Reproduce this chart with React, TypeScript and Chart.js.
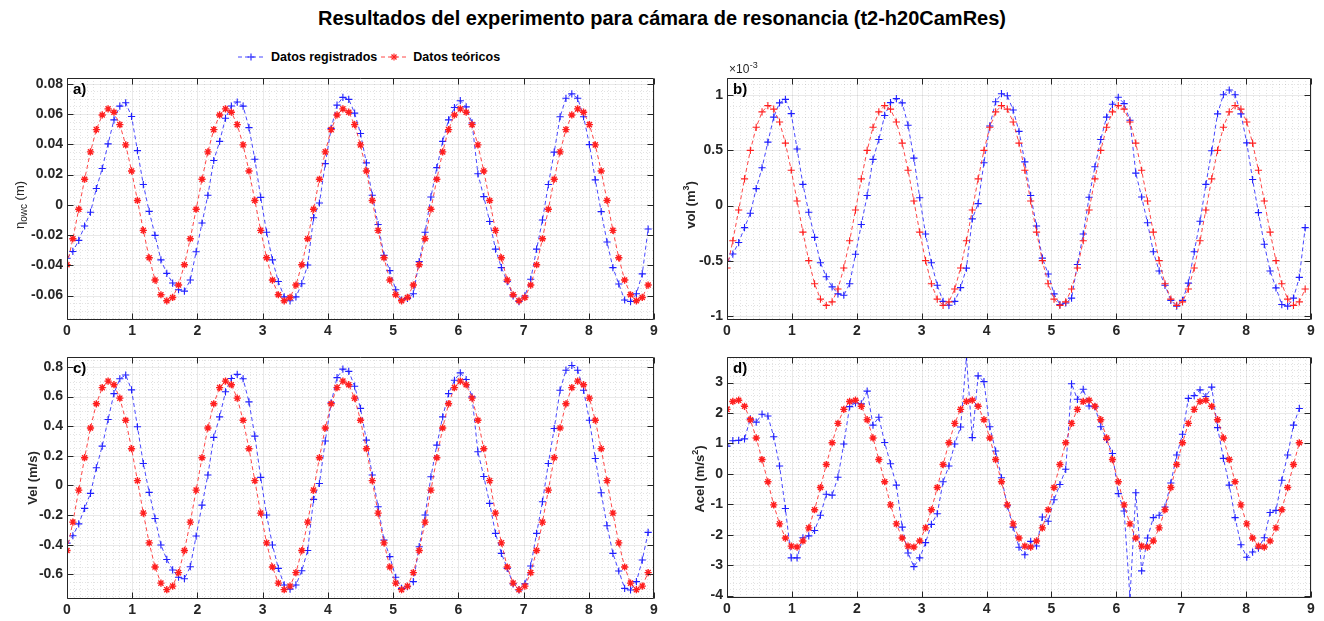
import React, { useEffect, useRef } from 'react';
import { Chart, registerables } from 'chart.js';

Chart.register(...registerables);

const FONT = "'Liberation Sans', Arial, Helvetica, sans-serif";

// ---------------- DATA ----------------
const TIME = [0, 0.09, 0.18, 0.27, 0.36, 0.45, 0.54, 0.63, 0.72, 0.81, 0.9, 0.99, 1.08, 1.17, 1.26, 1.35, 1.44, 1.53, 1.62, 1.71,
  1.8, 1.89, 1.98, 2.07, 2.16, 2.25, 2.34, 2.43, 2.52, 2.61, 2.7, 2.79, 2.88, 2.97, 3.06, 3.15, 3.24, 3.33, 3.42, 3.51,
  3.6, 3.69, 3.78, 3.87, 3.96, 4.05, 4.14, 4.23, 4.32, 4.41, 4.5, 4.59, 4.68, 4.77, 4.86, 4.95, 5.04, 5.13, 5.22, 5.31,
  5.4, 5.49, 5.58, 5.67, 5.76, 5.85, 5.94, 6.03, 6.12, 6.21, 6.3, 6.39, 6.48, 6.57, 6.66, 6.75, 6.84, 6.93, 7.02, 7.11,
  7.2, 7.29, 7.38, 7.47, 7.56, 7.65, 7.74, 7.83, 7.92, 8.01, 8.1, 8.19, 8.28, 8.37, 8.46, 8.55, 8.64, 8.73, 8.82, 8.91];

const ETA_REG = [-0.0353, -0.0308, -0.0235, -0.0140, -0.0049, 0.0108, 0.0240, 0.0403, 0.0561, 0.0652,
  0.0674, 0.0584, 0.0358, 0.0134, -0.0043, -0.0202, -0.0364, -0.0453, -0.0517, -0.0561,
  -0.0570, -0.0497, -0.0310, -0.0120, 0.0063, 0.0293, 0.0419, 0.0572, 0.0653, 0.0679,
  0.0652, 0.0510, 0.0301, 0.0049, -0.0181, -0.0364, -0.0507, -0.0608, -0.0634, -0.0608,
  -0.0521, -0.0398, -0.0085, 0.0012, 0.0272, 0.0505, 0.0659, 0.0710, 0.0697, 0.0606,
  0.0471, 0.0277, 0.0063, -0.0130, -0.0334, -0.0435, -0.0561, -0.0629, -0.0619, -0.0588,
  -0.0375, -0.0181, 0.0052, 0.0246, 0.0419, 0.0561, 0.0643, 0.0688, 0.0647, 0.0541,
  0.0205, 0.0054, -0.0110, -0.0293, -0.0415, -0.0507, -0.0602, -0.0639, -0.0602, -0.0492,
  -0.0293, -0.0100, 0.0134, 0.0348, 0.0582, 0.0704, 0.0733, 0.0704, 0.0582, 0.0398,
  0.0165, -0.0045, -0.0246, -0.0415, -0.0523, -0.0629, -0.0639, -0.0588, -0.0456, -0.0160];

const ETA_TEO = [-0.0396, -0.0224, -0.0029, 0.0169, 0.0350, 0.0497, 0.0594, 0.0634, 0.0612, 0.0530,
  0.0396, 0.0224, 0.0029, -0.0169, -0.0350, -0.0497, -0.0594, -0.0634, -0.0612, -0.0530,
  -0.0396, -0.0224, -0.0029, 0.0169, 0.0350, 0.0497, 0.0594, 0.0634, 0.0612, 0.0530,
  0.0396, 0.0224, 0.0029, -0.0169, -0.0350, -0.0497, -0.0594, -0.0634, -0.0612, -0.0530,
  -0.0396, -0.0224, -0.0029, 0.0169, 0.0350, 0.0497, 0.0594, 0.0634, 0.0612, 0.0530,
  0.0396, 0.0224, 0.0029, -0.0169, -0.0350, -0.0497, -0.0594, -0.0634, -0.0612, -0.0530,
  -0.0396, -0.0224, -0.0029, 0.0169, 0.0350, 0.0497, 0.0594, 0.0634, 0.0612, 0.0530,
  0.0396, 0.0224, 0.0029, -0.0169, -0.0350, -0.0497, -0.0594, -0.0634, -0.0612, -0.0530,
  -0.0396, -0.0224, -0.0029, 0.0169, 0.0350, 0.0497, 0.0594, 0.0634, 0.0612, 0.0530,
  0.0396, 0.0224, 0.0029, -0.0169, -0.0350, -0.0497, -0.0594, -0.0634, -0.0612, -0.0530];

// volume in units of 1e-3 m^3
const VOL_REG = [-0.503, -0.439, -0.335, -0.200, -0.070, 0.153, 0.342, 0.574, 0.800, 0.929,
  0.961, 0.832, 0.511, 0.191, -0.061, -0.288, -0.518, -0.645, -0.736, -0.800,
  -0.812, -0.708, -0.441, -0.172, 0.090, 0.418, 0.597, 0.815, 0.931, 0.967,
  0.929, 0.727, 0.429, 0.070, -0.258, -0.518, -0.722, -0.867, -0.903, -0.867,
  -0.743, -0.567, -0.121, 0.017, 0.387, 0.720, 0.939, 1.012, 0.993, 0.864,
  0.671, 0.395, 0.090, -0.186, -0.476, -0.620, -0.800, -0.896, -0.882, -0.838,
  -0.534, -0.258, 0.075, 0.351, 0.597, 0.800, 0.916, 0.980, 0.922, 0.771,
  0.293, 0.077, -0.156, -0.418, -0.592, -0.722, -0.858, -0.910, -0.858, -0.702,
  -0.418, -0.142, 0.191, 0.495, 0.829, 1.003, 1.045, 1.003, 0.829, 0.567,
  0.235, -0.064, -0.351, -0.592, -0.745, -0.896, -0.910, -0.838, -0.650, -0.200];

const VOL_TEO = [-0.565, -0.319, -0.041, 0.241, 0.499, 0.708, 0.847, 0.904, 0.872, 0.756,
  0.565, 0.319, 0.041, -0.241, -0.499, -0.708, -0.847, -0.904, -0.872, -0.756,
  -0.565, -0.319, -0.041, 0.241, 0.499, 0.708, 0.847, 0.904, 0.872, 0.756,
  0.565, 0.319, 0.041, -0.241, -0.499, -0.708, -0.847, -0.904, -0.872, -0.756,
  -0.565, -0.319, -0.041, 0.241, 0.499, 0.708, 0.847, 0.904, 0.872, 0.756,
  0.565, 0.319, 0.041, -0.241, -0.499, -0.708, -0.847, -0.904, -0.872, -0.756,
  -0.565, -0.319, -0.041, 0.241, 0.499, 0.708, 0.847, 0.904, 0.872, 0.756,
  0.565, 0.319, 0.041, -0.241, -0.499, -0.708, -0.847, -0.904, -0.872, -0.756,
  -0.565, -0.319, -0.041, 0.241, 0.499, 0.708, 0.847, 0.904, 0.872, 0.756,
  0.565, 0.319, 0.041, -0.241, -0.499, -0.708, -0.847, -0.904, -0.872, -0.756];

const VEL_REG = [-0.39, -0.34, -0.26, -0.155, -0.054, 0.119, 0.265, 0.445, 0.62, 0.72,
  0.745, 0.645, 0.396, 0.148, -0.047, -0.223, -0.402, -0.50, -0.571, -0.62,
  -0.63, -0.549, -0.342, -0.133, 0.07, 0.324, 0.463, 0.632, 0.722, 0.75,
  0.72, 0.564, 0.333, 0.054, -0.20, -0.402, -0.56, -0.672, -0.70, -0.672,
  -0.576, -0.44, -0.094, 0.013, 0.30, 0.558, 0.728, 0.785, 0.77, 0.67,
  0.52, 0.306, 0.07, -0.144, -0.369, -0.481, -0.62, -0.695, -0.684, -0.65,
  -0.414, -0.2, 0.058, 0.272, 0.463, 0.62, 0.71, 0.76, 0.715, 0.598,
  0.227, 0.06, -0.121, -0.324, -0.459, -0.56, -0.665, -0.706, -0.665, -0.544,
  -0.324, -0.11, 0.148, 0.384, 0.643, 0.778, 0.81, 0.778, 0.643, 0.44,
  0.182, -0.05, -0.272, -0.459, -0.578, -0.695, -0.706, -0.65, -0.504, -0.317];

const VEL_TEO = [-0.44, -0.248, -0.032, 0.187, 0.388, 0.551, 0.66, 0.704, 0.68, 0.589,
  0.44, 0.248, 0.032, -0.187, -0.388, -0.551, -0.66, -0.704, -0.68, -0.589,
  -0.44, -0.248, -0.032, 0.187, 0.388, 0.551, 0.66, 0.704, 0.68, 0.589,
  0.44, 0.248, 0.032, -0.187, -0.388, -0.551, -0.66, -0.704, -0.68, -0.589,
  -0.44, -0.248, -0.032, 0.187, 0.388, 0.551, 0.66, 0.704, 0.68, 0.589,
  0.44, 0.248, 0.032, -0.187, -0.388, -0.551, -0.66, -0.704, -0.68, -0.589,
  -0.44, -0.248, -0.032, 0.187, 0.388, 0.551, 0.66, 0.704, 0.68, 0.589,
  0.44, 0.248, 0.032, -0.187, -0.388, -0.551, -0.66, -0.704, -0.68, -0.589,
  -0.44, -0.248, -0.032, 0.187, 0.388, 0.551, 0.66, 0.704, 0.68, 0.589,
  0.44, 0.248, 0.032, -0.187, -0.388, -0.551, -0.66, -0.704, -0.68, -0.589];

const ACEL_REG = [0.91, 1.09, 1.10, 1.15, 1.81, 1.70, 1.96, 1.90, 1.22, 0.26,
  -1.14, -2.76, -2.76, -2.10, -2.04, -1.86, -1.36, -0.67, -0.70, -0.11,
  0.98, 2.21, 2.33, 2.30, 2.72, 1.60, 1.86, 1.03, 0.33, -0.37,
  -1.75, -2.60, -3.05, -2.76, -2.26, -1.66, -1.31, -0.26, 0.26, 0.98,
  1.54, 3.84, 1.19, 3.22, 3.03, 1.55, 0.75, -0.13, -1.05, -1.75,
  -2.41, -2.66, -2.22, -2.37, -1.42, -1.56, -0.85, -0.35, 0.15, 2.96,
  2.45, 2.78, 2.23, 2.20, 1.55, 1.13, 0.67, -0.65, -1.22, -4.07,
  -0.62, -3.19, -2.11, -1.44, -1.36, -1.09, -0.30, 0.62, 1.30, 2.48,
  2.57, 2.76, 2.54, 2.85, 1.52, 0.51, -0.37, -1.44, -2.33, -2.74,
  -2.57, -2.44, -2.10, -1.27, -1.20, -0.21, 0.62, 1.60, 2.15];

const ACEL_TEO = [2.12, 2.38, 2.42, 2.22, 1.78, 1.18, 0.47, -0.26, -1.02, -1.645,
  -2.11, -2.375, -2.405, -2.205, -1.775, -1.18, -0.45, 0.305, 1.02, 1.66,
  2.12, 2.38, 2.42, 2.22, 1.78, 1.18, 0.47, -0.26, -1.02, -1.645,
  -2.11, -2.375, -2.405, -2.205, -1.775, -1.18, -0.45, 0.305, 1.02, 1.66,
  2.12, 2.38, 2.42, 2.22, 1.78, 1.18, 0.47, -0.26, -1.02, -1.645,
  -2.11, -2.375, -2.405, -2.205, -1.775, -1.18, -0.45, 0.305, 1.02, 1.66,
  2.12, 2.38, 2.42, 2.22, 1.78, 1.18, 0.47, -0.26, -1.02, -1.645,
  -2.11, -2.375, -2.405, -2.205, -1.775, -1.18, -0.45, 0.305, 1.02, 1.66,
  2.12, 2.38, 2.42, 2.22, 1.78, 1.18, 0.47, -0.26, -1.02, -1.645,
  -2.11, -2.375, -2.405, -2.205, -1.775, -1.18, -0.45, 0.305, 1.02];

const X_TICKS = [0, 1, 2, 3, 4, 5, 6, 7, 8, 9];
const ETA_TICKS = [-0.06, -0.04, -0.02, 0, 0.02, 0.04, 0.06, 0.08];
const VOL_TICKS = [-1, -0.5, 0, 0.5, 1];
const VEL_TICKS = [-0.6, -0.4, -0.2, 0, 0.2, 0.4, 0.6, 0.8];
const ACEL_TICKS = [-4, -3, -2, -1, 0, 1, 2, 3];

const TITLE = 'Resultados del experimento para cámara de resonancia (t2-h20CamRes)';
const LEGEND_REG = 'Datos registrados';
const LEGEND_TEO = 'Datos teóricos';

// ---------------- STYLE ----------------
const BLUE_LINE = 'rgba(40,40,255,0.85)';
const BLUE_MARK = '#1f1fff';
const RED_LINE = 'rgba(255,40,40,0.85)';
const RED_MARK = '#ff1f1f';
const AXIS = '#262626';

type TitlePart = { text: string; size: number; weight: string; dy: number };

type PanelDef = {
  id: string;
  left: number; top: number; right: number; bottom: number;
  yw: number;
  yMin: number; yMax: number;
  yTicks: number[];
  yMinor: number;
  reg: number[]; teo: number[];
  teoStyle: string;
  label: string;
  titleX: number; titleY: number;
  title: TitlePart[];
  exponent?: boolean;
};

const PANELS: PanelDef[] = [
  {
    id: 'a', left: 67, top: 78, right: 654, bottom: 320, yw: 66,
    yMin: -0.0761, yMax: 0.0838, yTicks: ETA_TICKS, yMinor: 0.005,
    reg: ETA_REG, teo: ETA_TEO, teoStyle: 'star', label: 'a)',
    titleX: 19, titleY: 205,
    title: [
      { text: 'η', size: 13, weight: 'normal', dy: 0 },
      { text: 'owc', size: 10, weight: 'normal', dy: 3 },
      { text: ' (m)', size: 13, weight: 'normal', dy: 0 },
    ],
  },
  {
    id: 'b', left: 727, top: 78, right: 1311, bottom: 320, yw: 70,
    yMin: -1.036, yMax: 1.154, yTicks: VOL_TICKS, yMinor: 0.1,
    reg: VOL_REG, teo: VOL_TEO, teoStyle: 'cross', label: 'b)',
    titleX: 690, titleY: 205,
    title: [
      { text: 'vol (m', size: 13, weight: 'bold', dy: 0 },
      { text: '3', size: 9, weight: 'bold', dy: -6 },
      { text: ')', size: 13, weight: 'bold', dy: 0 },
    ],
    exponent: true,
  },
  {
    id: 'c', left: 67, top: 357, right: 654, bottom: 599, yw: 66,
    yMin: -0.767, yMax: 0.867, yTicks: VEL_TICKS, yMinor: 0.05,
    reg: VEL_REG, teo: VEL_TEO, teoStyle: 'star', label: 'c)',
    titleX: 32, titleY: 478,
    title: [{ text: 'Vel (m/s)', size: 13, weight: 'bold', dy: 0 }],
  },
  {
    id: 'd', left: 727, top: 357, right: 1311, bottom: 598, yw: 70,
    yMin: -4.08, yMax: 3.84, yTicks: ACEL_TICKS, yMinor: 0.2,
    reg: ACEL_REG, teo: ACEL_TEO, teoStyle: 'star', label: 'd)',
    titleX: 699, titleY: 479,
    title: [
      { text: 'Acel (m/s', size: 13, weight: 'bold', dy: 0 },
      { text: '2', size: 9, weight: 'bold', dy: -6 },
      { text: ')', size: 13, weight: 'bold', dy: 0 },
    ],
  },
];

const PAD_TOP = 30;
const PAD_RIGHT = 12;
const X_H = 22;
const X_MINOR = 0.1;
const TICK_LEN = 6;

function fmt(v: number) {
  const r = Math.round(v * 1000) / 1000;
  return String(r);
}

function makeDeco(p: PanelDef, canvasLeft: number, canvasTop: number) {
  return {
    id: 'deco' + p.id,
    beforeDatasetsDraw(chart: any) {
      const { ctx, chartArea: a, scales } = chart;
      const xs = scales.x;
      const ys = scales.y;
      ctx.save();
      ctx.lineWidth = 1;
      // minor grid (dotted)
      ctx.strokeStyle = 'rgba(38,38,38,0.13)';
      ctx.setLineDash([1, 2]);
      ctx.beginPath();
      const nx = Math.round(9 / X_MINOR);
      for (let k = 1; k < nx; k++) {
        if (k % Math.round(1 / X_MINOR) === 0) continue;
        const px = Math.round(xs.getPixelForValue(k * X_MINOR)) + 0.5;
        ctx.moveTo(px, a.top);
        ctx.lineTo(px, a.bottom);
      }
      const k0 = Math.ceil(p.yMin / p.yMinor);
      const k1 = Math.floor(p.yMax / p.yMinor);
      for (let k = k0; k <= k1; k++) {
        const v = k * p.yMinor;
        if (p.yTicks.some((t) => Math.abs(t - v) < p.yMinor * 0.01)) continue;
        const py = Math.round(ys.getPixelForValue(v)) + 0.5;
        ctx.moveTo(a.left, py);
        ctx.lineTo(a.right, py);
      }
      ctx.stroke();
      // major grid
      ctx.setLineDash([]);
      ctx.strokeStyle = 'rgba(38,38,38,0.10)';
      ctx.beginPath();
      for (const t of X_TICKS) {
        const px = Math.round(xs.getPixelForValue(t)) + 0.5;
        ctx.moveTo(px, a.top);
        ctx.lineTo(px, a.bottom);
      }
      for (const t of p.yTicks) {
        const py = Math.round(ys.getPixelForValue(t)) + 0.5;
        ctx.moveTo(a.left, py);
        ctx.lineTo(a.right, py);
      }
      ctx.stroke();
      ctx.restore();
    },
    afterDatasetsDraw(chart: any) {
      const { ctx, chartArea: a, scales } = chart;
      const xs = scales.x;
      const ys = scales.y;
      ctx.save();
      ctx.strokeStyle = AXIS;
      ctx.lineWidth = 1;
      ctx.setLineDash([]);
      const L = Math.round(a.left) + 0.5;
      const R = Math.round(a.right) - 0.5;
      const T = Math.round(a.top) + 0.5;
      const B = Math.round(a.bottom) - 0.5;
      ctx.beginPath();
      ctx.rect(L, T, R - L, B - T);
      for (const t of X_TICKS) {
        const px = Math.round(xs.getPixelForValue(t)) + 0.5;
        ctx.moveTo(px, B);
        ctx.lineTo(px, B - TICK_LEN);
        ctx.moveTo(px, T);
        ctx.lineTo(px, T + TICK_LEN);
      }
      for (const t of p.yTicks) {
        const py = Math.round(ys.getPixelForValue(t)) + 0.5;
        ctx.moveTo(L, py);
        ctx.lineTo(L + TICK_LEN, py);
        ctx.moveTo(R, py);
        ctx.lineTo(R - TICK_LEN, py);
      }
      ctx.stroke();

      // panel letter
      ctx.fillStyle = '#000';
      ctx.font = `bold 15px ${FONT}`;
      ctx.textBaseline = 'middle';
      ctx.textAlign = 'left';
      ctx.fillText(p.label, a.left + 6, a.top + 12);

      // exponent label
      if (p.exponent) {
        ctx.fillStyle = AXIS;
        ctx.textBaseline = 'alphabetic';
        ctx.font = `normal 12px ${FONT}`;
        const x0 = a.left + 2;
        const base = a.top - 5;
        ctx.fillText('×10', x0, base);
        const w = ctx.measureText('×10').width;
        ctx.font = `normal 9px ${FONT}`;
        ctx.fillText('-3', x0 + w + 0.5, base - 5);
      }

      // y title (rotated)
      ctx.fillStyle = AXIS;
      ctx.textBaseline = 'alphabetic';
      ctx.textAlign = 'left';
      const cx = p.titleX - canvasLeft;
      const cy = p.titleY - canvasTop;
      let total = 0;
      const widths: number[] = [];
      for (const part of p.title) {
        ctx.font = `${part.weight} ${part.size}px ${FONT}`;
        const w = ctx.measureText(part.text).width;
        widths.push(w);
        total += w;
      }
      ctx.translate(cx, cy);
      ctx.rotate(-Math.PI / 2);
      let x = -total / 2;
      p.title.forEach((part, i) => {
        ctx.font = `${part.weight} ${part.size}px ${FONT}`;
        ctx.fillText(part.text, x, 4.6 + part.dy);
        x += widths[i];
      });
      ctx.restore();
    },
  };
}

function PanelChart({ p }: { p: PanelDef }) {
  const ref = useRef<HTMLCanvasElement | null>(null);
  const canvasLeft = p.left - p.yw;
  const canvasTop = p.top - PAD_TOP;
  const cw = p.yw + (p.right - p.left) + PAD_RIGHT;
  const ch = PAD_TOP + (p.bottom - p.top) + X_H;

  useEffect(() => {
    if (!ref.current) return;
    const regData = p.reg.map((v, i) => ({ x: TIME[i], y: v }));
    const teoData = p.teo.map((v, i) => ({ x: TIME[i], y: v }));
    const chart = new Chart(ref.current, {
      type: 'line',
      data: {
        datasets: [
          {
            label: LEGEND_REG,
            data: regData,
            borderColor: BLUE_LINE,
            borderWidth: 1,
            borderDash: [4, 3],
            pointStyle: 'cross',
            pointRadius: 3.6,
            pointBorderColor: BLUE_MARK,
            pointBackgroundColor: BLUE_MARK,
            pointBorderWidth: 1.1,
            fill: false,
            tension: 0,
            order: 1,
          },
          {
            label: LEGEND_TEO,
            data: teoData,
            borderColor: RED_LINE,
            borderWidth: 1,
            borderDash: [4, 3],
            pointStyle: p.teoStyle as any,
            pointRadius: 3.6,
            pointBorderColor: RED_MARK,
            pointBackgroundColor: RED_MARK,
            pointBorderWidth: p.teoStyle === 'star' ? 1.4 : 1.1,
            fill: false,
            tension: 0,
            order: 0,
          },
        ],
      },
      options: {
        responsive: false,
        maintainAspectRatio: false,
        animation: false,
        devicePixelRatio: 1,
        events: [],
        layout: { padding: { top: PAD_TOP, right: PAD_RIGHT, left: 0, bottom: 0 } },
        plugins: { legend: { display: false }, tooltip: { enabled: false }, title: { display: false } },
        scales: {
          x: {
            type: 'linear',
            min: 0,
            max: 9,
            grid: { display: false, drawTicks: false },
            border: { display: false },
            afterBuildTicks: (s: any) => { s.ticks = X_TICKS.map((v) => ({ value: v })); },
            afterFit: (s: any) => { s.height = X_H; },
            ticks: {
              autoSkip: false,
              maxRotation: 0,
              padding: 3,
              color: AXIS,
              font: { family: FONT, size: 14, weight: 'bold' },
              callback: (v: any) => String(v),
            },
          },
          y: {
            type: 'linear',
            min: p.yMin,
            max: p.yMax,
            grid: { display: false, drawTicks: false },
            border: { display: false },
            afterBuildTicks: (s: any) => { s.ticks = p.yTicks.map((v) => ({ value: v })); },
            afterFit: (s: any) => { s.width = p.yw; },
            ticks: {
              autoSkip: false,
              padding: 4,
              color: AXIS,
              font: { family: FONT, size: 14, weight: 'bold' },
              callback: (v: any) => fmt(Number(v)),
            },
          },
        },
      },
      plugins: [makeDeco(p, canvasLeft, canvasTop)],
    } as any);
    return () => chart.destroy();
  }, []);

  return (
    <canvas
      ref={ref}
      width={cw}
      height={ch}
      style={{ position: 'absolute', left: canvasLeft, top: canvasTop, width: cw, height: ch }}
    />
  );
}

function LegendSample({ color, mark, star }: { color: string; mark: string; star: boolean }) {
  return (
    <svg width={26} height={16} style={{ display: 'block' }}>
      <line x1={0} y1={8} x2={26} y2={8} stroke={color} strokeWidth={1} strokeDasharray="4 3" />
      <path d="M9.5 8H16.5M13 4.5V11.5" stroke={mark} strokeWidth={1.1} />
      {star ? <path d="M10.5 5.5L15.5 10.5M15.5 5.5L10.5 10.5" stroke={mark} strokeWidth={1.2} /> : null}
    </svg>
  );
}

export default function App() {
  return (
    <div style={{ position: 'absolute', left: 0, top: 0, width: 1324, height: 621, background: '#ffffff', overflow: 'hidden', fontFamily: FONT }}>
      <div style={{ position: 'absolute', left: 0, top: 6, width: 1324, textAlign: 'center', fontWeight: 'bold', fontSize: 20, lineHeight: '24px', color: '#000' }}>
        {TITLE}
      </div>
      <div style={{ position: 'absolute', left: 238, top: 49, display: 'flex', alignItems: 'center', fontWeight: 'bold', fontSize: 12.5, lineHeight: '16px', color: '#000', whiteSpace: 'nowrap' }}>
        <LegendSample color={BLUE_LINE} mark={BLUE_MARK} star={false} />
        <span style={{ marginLeft: 7 }}>{LEGEND_REG}</span>
        <span style={{ marginLeft: 4 }}><LegendSample color={RED_LINE} mark={RED_MARK} star={true} /></span>
        <span style={{ marginLeft: 6 }}>{LEGEND_TEO}</span>
      </div>
      {PANELS.map((p) => <PanelChart key={p.id} p={p} />)}
    </div>
  );
}
